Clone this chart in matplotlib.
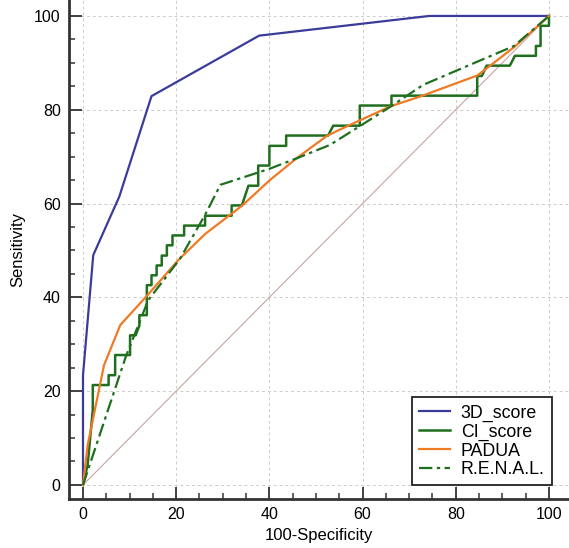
import matplotlib.pyplot as plt
from matplotlib.ticker import MultipleLocator

plt.rcParams["font.family"] = ["Liberation Sans", "DejaVu Sans"]

# ROC curves (x = 100-Specificity, y = Sensitivity)
score_x = [0, 0, 2.2, 7.8, 14.7, 37.8, 74.3, 100]
score_y = [0, 23.4, 49.0, 61.5, 82.9, 95.8, 100, 100]

ci_x = [0, 0.5, 1.0, 2.1, 2.1, 5.5, 5.5, 6.9, 6.9, 10.1, 10.1, 11.3, 12.1, 12.1,
        13.7, 13.7, 14.7, 14.7, 15.8, 15.8, 16.9, 16.9, 18.0, 18.0, 19.2, 19.2,
        21.7, 21.7, 26.2, 26.2, 31.9, 31.9, 34.1, 35.5, 37.6, 37.6, 40.0, 40.0,
        43.6, 43.6, 52.6, 53.7, 59.4, 59.4, 66.2, 66.2, 84.6, 84.6, 85.6, 86.6,
        91.6, 92.7, 97.2, 97.2, 98.2, 98.2, 100, 100]
ci_y = [0, 2.1, 4.3, 16.0, 21.3, 21.3, 23.4, 23.4, 27.7, 27.7, 31.9, 31.9, 34.0, 36.2,
        36.2, 42.6, 42.6, 44.7, 44.7, 46.8, 46.8, 48.9, 48.9, 51.1, 51.1, 53.2,
        53.2, 55.3, 55.3, 57.4, 57.4, 59.6, 59.6, 63.8, 63.8, 68.1, 68.1, 72.3,
        72.3, 74.5, 74.5, 76.6, 76.6, 80.9, 80.9, 83.0, 83.0, 87.2, 87.2, 89.4,
        89.4, 91.5, 91.5, 93.6, 93.6, 97.9, 97.9, 100]

padua_x = [0, 1.0, 4.5, 8.0, 13.7, 20.5, 26.2, 34.2, 40.1, 45.9, 52.3, 55.2, 65.9, 72.3, 84.6, 86.6, 92.7, 100]
padua_y = [0, 8.5, 25.5, 34.1, 40.3, 48.0, 53.5, 59.6, 65.0, 69.7, 74.4, 75.8, 80.7, 82.8, 87.3, 88.8, 93.5, 100]

renal_x = [0, 9.2, 14.0, 20.8, 26.2, 29.5, 40.0, 46.0, 53.0, 59.4, 66.2, 73.0, 92.5, 100]
renal_y = [0, 27.4, 39.4, 48.2, 57.6, 64.0, 67.4, 69.7, 72.5, 76.5, 80.8, 85.3, 93.6, 100]

fig = plt.figure(figsize=(5.69, 5.48), dpi=100)
ax = fig.add_axes([0.1213, 0.0894, 0.8787, 0.9106])

# chance line
ax.plot([0, 100], [0, 100], color="#c9a3a3", lw=0.8, zorder=2)

ax.plot(score_x, score_y, color="#3b3b9b", lw=1.6, label="3D_score", zorder=3)
ax.plot(ci_x, ci_y, color="#1f6f1f", lw=1.8, label="CI_score", zorder=3)
ax.plot(padua_x, padua_y, color="#f07a24", lw=1.6, label="PADUA", zorder=3)
ax.plot(renal_x, renal_y, color="#1f6f1f", lw=1.6, ls=(0, (6, 2, 1.5, 2)),
        label="R.E.N.A.L.", zorder=3)

ax.set_xlim(-3.0, 104.3)
ax.set_ylim(-3.0, 103.4)
ax.xaxis.set_major_locator(MultipleLocator(20))
ax.xaxis.set_minor_locator(MultipleLocator(5))
ax.yaxis.set_major_locator(MultipleLocator(20))
ax.yaxis.set_minor_locator(MultipleLocator(5))

ax.grid(True, which="major", color="#cccccc", ls=(0, (3, 3)), lw=0.7)
ax.set_axisbelow(True)

for side in ["top", "right"]:
    ax.spines[side].set_visible(False)
for side in ["left", "bottom"]:
    ax.spines[side].set_linewidth(2.0)
    ax.spines[side].set_color("#333333")

ax.tick_params(which="major", direction="in", length=9, width=1.3, color="#333333",
               labelsize=11.5, pad=6)
ax.tick_params(which="minor", direction="in", length=4.5, width=1.1, color="#333333")

ax.set_xlabel("100-Specificity", fontsize=12, labelpad=4)
ax.set_ylabel("Sensitivity", fontsize=12, labelpad=6)

leg = ax.legend(loc="lower right", bbox_to_anchor=(100.6, -0.1),
                bbox_transform=ax.transData, borderaxespad=0, fontsize=12.8,
                fancybox=False, framealpha=1, edgecolor="#222222",
                handlelength=1.75, handletextpad=0.6, labelspacing=0.1,
                borderpad=0.4)
leg.get_frame().set_linewidth(1.3)

fig.savefig("out.png", dpi=100)
